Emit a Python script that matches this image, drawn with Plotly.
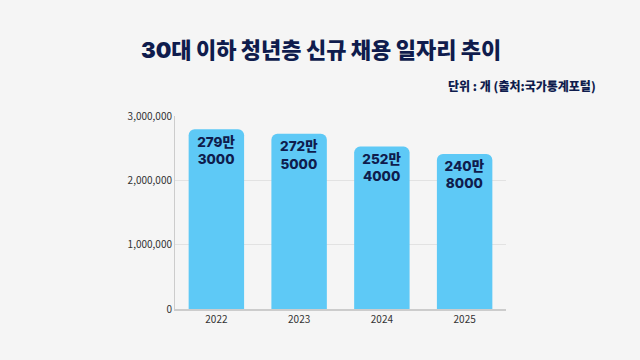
import plotly.graph_objects as go

years = ["2022", "2023", "2024", "2025"]
values = [2793000, 2725000, 2524000, 2408000]
labels = ["279만<br>3000", "272만<br>5000", "252만<br>4000", "240만<br>8000"]
tick_vals = [0, 1000000, 2000000, 3000000]
tick_text = ["0", "1,000,000", "2,000,000", "3,000,000"]

navy = "#0f1c4d"
font = "Noto Sans CJK KR"
label_font = "Inter, Noto Sans CJK KR"

fig = go.Figure(go.Bar(
    x=years, y=values, text=labels,
    textposition="inside", insidetextanchor="end",
    textangle=0,
    textfont=dict(family=label_font, size=13.5, color=navy, weight=800),
    marker=dict(color="#5ec9f6", cornerradius=6, line=dict(width=0)),
    hoverinfo="skip",
))

fig.update_layout(
    width=640, height=360,
    paper_bgcolor="#f5f5f5", plot_bgcolor="#f5f5f5",
    margin=dict(l=175, r=134, t=116, b=51),
    bargap=0.33,
    showlegend=False,
    font=dict(family=font, color="#333333", size=10),
)
fig.update_yaxes(
    range=[0, 3000000], tickvals=tick_vals, ticktext=tick_text,
    showgrid=True, gridcolor="#e2e2e2", gridwidth=1,
    showline=True, linecolor="#cccccc", linewidth=1,
    zeroline=False, ticks="", tickfont=dict(size=10, color="#333333"),
)
fig.update_xaxes(
    showline=True, linecolor="#cccccc", linewidth=2,
    ticks="", tickfont=dict(size=10, color="#333333"),
)

fig.add_annotation(
    text="30대 이하 청년층 신규 채용 일자리 추이",
    xref="paper", yref="paper", x=(321 - 175) / 331, y=(309 - 50) / 193,
    xanchor="center", yanchor="middle",
    showarrow=False,
    font=dict(family=label_font, size=22, color=navy, weight=900),
)
fig.add_annotation(
    text="단위 : 개 (출처:국가통계포털)",
    xref="paper", yref="paper", x=(598 - 175) / 331, y=(309 - 85) / 193,
    xanchor="right", yanchor="middle", showarrow=False,
    font=dict(family=font, size=12, color=navy, weight=900),
)

fig.write_html("out.html", config={"displayModeBar": False},
               post_script="document.body.style.margin='0';")
